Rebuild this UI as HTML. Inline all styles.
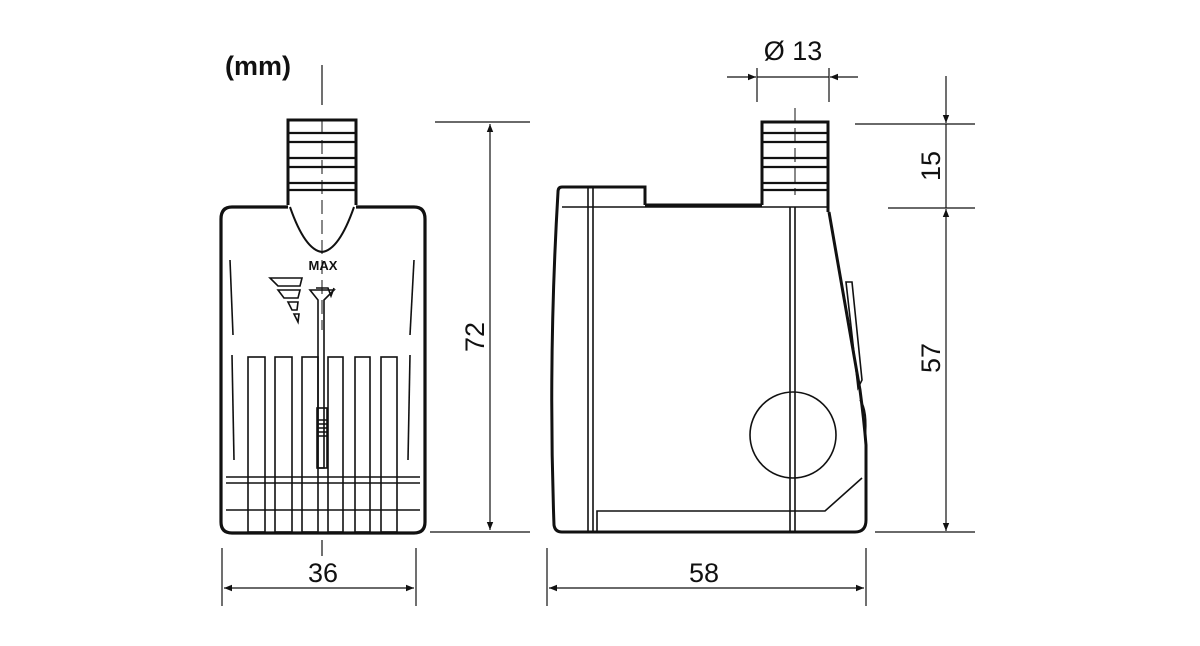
<!DOCTYPE html>
<html><head><style>body{margin:0;background:#fff}svg{display:block}text{font-family:"Liberation Sans",Arial,sans-serif;fill:#111}</style></head><body>
<svg width="1200" height="646" viewBox="0 0 1200 646" xmlns="http://www.w3.org/2000/svg">
<defs>
<marker id="a" viewBox="0 0 10 10" refX="10" refY="5" markerWidth="12" markerHeight="8" orient="auto-start-reverse" markerUnits="userSpaceOnUse"><path d="M0,1 L10,5 L0,9 z" fill="#111"/></marker>
</defs>
<g stroke="#111" fill="none">
<!-- LEFT PUMP -->
<line x1="322" y1="65" x2="322" y2="105" stroke-width="1.2"/>
<line x1="322" y1="540" x2="322" y2="556" stroke-width="1.2"/>
<path d="M288 205 V120 H356 V205" stroke-width="3"/>
<g stroke-width="2.2">
<path d="M287 133 H357 M287 142 H357 M287 158 H357 M287 167 H357 M287 183 H357 M287 190 H357"/>
</g>
<path d="M288 207 H232 Q221 207 221 219 V522 Q221 533 232 533 H414 Q425 533 425 522 V219 Q425 207 414 207 H356" stroke-width="3.2"/>
<path d="M290 207 Q305 250 322 252 Q339 250 354 207" stroke-width="2"/>
<line x1="322" y1="120" x2="322" y2="330" stroke-width="1" stroke-dasharray="14,6"/>
<g stroke-width="1.6">
<line x1="230" y1="260" x2="233" y2="335"/><line x1="414" y1="260" x2="410" y2="335"/>
<line x1="232" y1="355" x2="234" y2="460"/><line x1="410" y1="355" x2="408" y2="460"/>
<rect x="248" y="357" width="17" height="175"/>
<rect x="275" y="357" width="17" height="175"/>
<rect x="302" y="357" width="16" height="175"/>
<rect x="328" y="357" width="15" height="175"/>
<rect x="355" y="357" width="15" height="175"/>
<rect x="381" y="357" width="16" height="175"/>
<path d="M226 477 H420 M226 483 H420 M226 510 H420"/>
<path d="M316 288 L328 288 L331 296 L334 288 M310 290 L334 290 L324 300 V468 H318 V300 Z"/>
<rect x="317" y="408" width="10" height="60"/>
<path d="M317 420 H327 M317 424 H327 M317 428 H327 M317 432 H327 M317 436 H327"/>
<path d="M270 278 L302 278 L300 286 L278 286 Z M278 290 L300 290 L298 298 L284 298 Z M288 302 L298 302 L297 310 L292 310 Z M294 314 L299 314 L298 322 Z"/>
</g>
<!-- RIGHT PUMP -->
<path d="M762 205 V122 H828 V212" stroke-width="3"/>
<g stroke-width="2.2"><path d="M762 133 H829 M762 142 H829 M762 158 H829 M762 167 H829 M762 183 H829 M762 190 H829"/></g>
<line x1="795" y1="108" x2="795" y2="195" stroke-width="1" stroke-dasharray="14,6"/>
<path d="M645 205 H762 M645 205 V187 H562 Q558 187 558 192 Q548 360 554 525 Q555 532 562 532 H855 Q866 532 866 520 V445 Q864 420 860 390 L829 212" stroke-width="3"/>
<path d="M562 207 H645 M645 207 H828" stroke-width="1.5"/>
<path d="M588 187 V532 M593 187 V532 M790 207 V532 M795 207 V532" stroke-width="1.6"/>
<circle cx="793" cy="435" r="43" stroke-width="1.6"/>
<path d="M597 532 V511 H825 L862 478" stroke-width="1.6"/>
<path d="M846 282 L852 282 L862 380 L858 388 Z" stroke-width="1.6"/>
<path d="M860 400 Q868 410 865 440" stroke-width="1.6"/>
<!-- DIMENSIONS -->
<g stroke-width="1.2">
<line x1="435" y1="122" x2="530" y2="122"/><line x1="430" y1="532" x2="530" y2="532"/>
<line x1="490" y1="124" x2="490" y2="530" marker-start="url(#a)" marker-end="url(#a)"/>
<line x1="222" y1="548" x2="222" y2="606"/><line x1="416" y1="548" x2="416" y2="606"/>
<line x1="224" y1="588" x2="414" y2="588" marker-start="url(#a)" marker-end="url(#a)"/>
<line x1="547" y1="548" x2="547" y2="606"/><line x1="866" y1="548" x2="866" y2="606"/>
<line x1="549" y1="588" x2="864" y2="588" marker-start="url(#a)" marker-end="url(#a)"/>
<line x1="757" y1="68" x2="757" y2="102"/><line x1="829" y1="68" x2="829" y2="102"/>
<line x1="727" y1="77" x2="756" y2="77" marker-end="url(#a)"/>
<line x1="858" y1="77" x2="830" y2="77" marker-end="url(#a)"/>
<line x1="757" y1="77" x2="829" y2="77"/>
<line x1="855" y1="124" x2="975" y2="124"/><line x1="888" y1="208" x2="975" y2="208"/><line x1="875" y1="532" x2="975" y2="532"/>
<line x1="946" y1="76" x2="946" y2="123" marker-end="url(#a)"/>
<line x1="946" y1="124" x2="946" y2="208"/>
<line x1="946" y1="209" x2="946" y2="531" marker-start="url(#a)" marker-end="url(#a)"/>
</g>
</g>
<text x="258" y="75" font-size="27" font-weight="bold" text-anchor="middle">(mm)</text>
<text x="323" y="582" font-size="27" text-anchor="middle">36</text>
<text x="704" y="582" font-size="27" text-anchor="middle">58</text>
<text x="793" y="60" font-size="27" text-anchor="middle">Ø 13</text>
<text transform="translate(484,337) rotate(-90)" font-size="27" text-anchor="middle">72</text>
<text transform="translate(940,166) rotate(-90)" font-size="27" text-anchor="middle">15</text>
<text transform="translate(940,358) rotate(-90)" font-size="27" text-anchor="middle">57</text>
<text x="323" y="270" font-size="13" text-anchor="middle" font-weight="bold">MAX</text>
</svg>
</body></html>
